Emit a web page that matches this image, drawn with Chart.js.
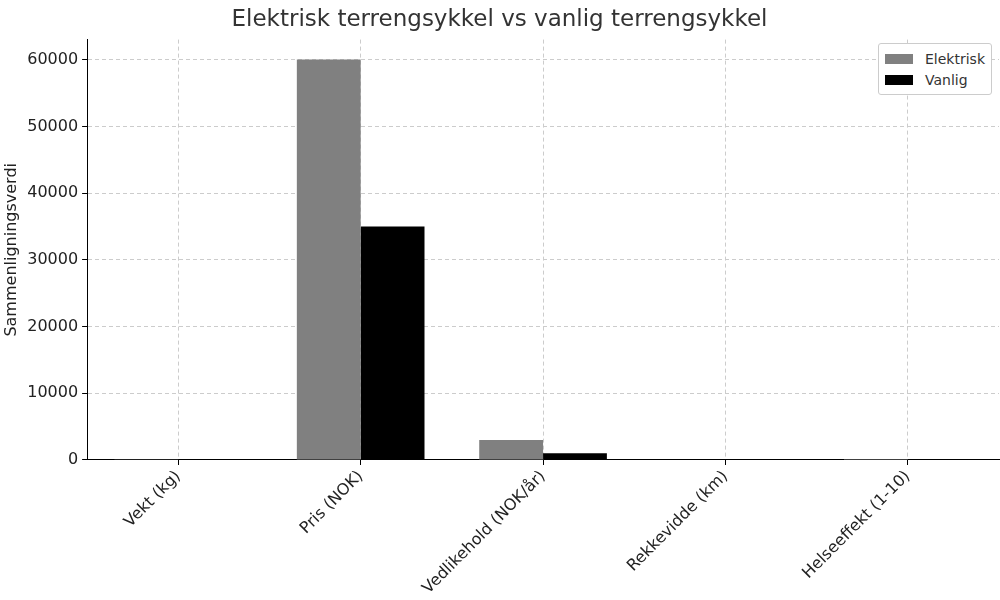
<!DOCTYPE html>
<html>
<head>
<meta charset="utf-8">
<script src="https://cdn.jsdelivr.net/npm/chart.js@4/dist/chart.umd.min.js"></script>
<style>
  body { margin: 0; background: #fff; }
  #wrap { position: relative; width: 1000px; height: 600px; }
  #legend {
    position: absolute; right: 8px; top: 43px; background: #fff;
    border: 1px solid #ccc; border-radius: 3px; padding: 4px 6px;
    font: 14px "DejaVu Sans", sans-serif; color: #333;
  }
  #legend div { display: flex; align-items: center; height: 21px; }
  #legend span.sw { display: inline-block; width: 28px; height: 10px; margin-right: 12px; }
</style>
</head>
<body>
<div id="wrap">
  <canvas id="chart" width="1000" height="600"></canvas>
  <div id="legend">
    <div><span class="sw" style="background:#808080"></span>Elektrisk</div>
    <div><span class="sw" style="background:#000"></span>Vanlig</div>
  </div>
</div>
<script>
var categories = ["Vekt (kg)", "Pris (NOK)", "Vedlikehold (NOK/år)", "Rekkevidde (km)", "Helseeffekt (1-10)"];
var elektrisk = [22, 60000, 3000, 80, 7];
var vanlig = [14, 35000, 1000, 0, 9];
var yTicks = [0, 10000, 20000, 30000, 40000, 50000, 60000];

var font = "'DejaVu Sans', sans-serif";

new Chart("chart", {
    type: "bar",
    data: {
        labels: categories,
        datasets: [{
                label: "Elektrisk",
                data: elektrisk,
                backgroundColor: "#808080",
                barPercentage: 1,
                categoryPercentage: 0.7,
            },
            {
                label: "Vanlig",
                data: vanlig,
                backgroundColor: "#000000",
                barPercentage: 1,
                categoryPercentage: 0.7,
            },
        ]
    },
    options: {
        responsive: false,
        animation: false,
        layout: { padding: { left: 0, right: 1, top: 0, bottom: 0 } },
        plugins: {
            legend: { display: false },
            tooltip: { enabled: false },
            title: {
                display: true,
                text: "Elektrisk terrengsykkel vs vanlig terrengsykkel",
                color: "#333",
                font: { family: font, size: 23, weight: "normal" },
                padding: { top: 6, bottom: 6 }
            }
        },
        scales: {
            x: {
                grid: {
                    offset: false,
                    color: "#ccc",
                    tickColor: "#000",
                    tickLength: 5
                },
                border: { color: "#000", dash: [4, 3] },
                ticks: {
                    color: "#222",
                    font: { family: font, size: 16 },
                    maxRotation: 45,
                    minRotation: 45,
                    padding: 2
                }
            },
            y: {
                min: 0,
                max: 63000,
                afterBuildTicks: function(axis) {
                    axis.ticks = yTicks.map(function(v) { return { value: v }; });
                },
                grid: {
                    color: "#ccc",
                    tickColor: "#000",
                    tickLength: 5
                },
                border: { color: "#000", dash: [4, 3] },
                ticks: {
                    color: "#222",
                    font: { family: font, size: 16 },
                    padding: 4,
                    callback: function(v) { return String(v); }
                },
                title: {
                    display: true,
                    text: "Sammenligningsverdi",
                    color: "#222",
                    font: { family: font, size: 16 },
                    padding: 2
                }
            }
        }
    }
});
</script>
</body>
</html>
